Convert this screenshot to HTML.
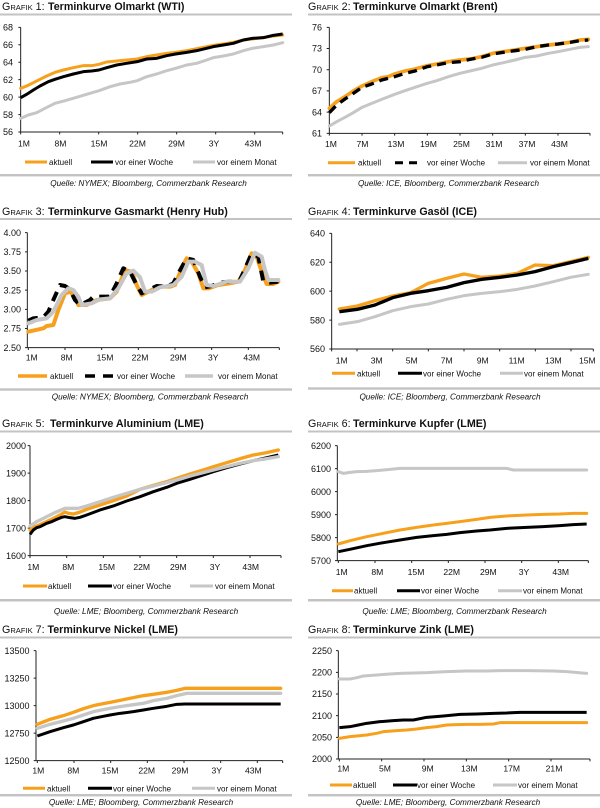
<!DOCTYPE html>
<html><head><meta charset="utf-8">
<style>
html,body{margin:0;padding:0;background:#fff;}
svg{display:block;font-family:"Liberation Sans",Arial,sans-serif;}
.yl{font-size:9px;text-anchor:end;fill:#111;}
.xl{font-size:8.6px;text-anchor:middle;fill:#111;}
.lg{font-size:8px;fill:#111;}
.src{font-size:8.2px;font-style:italic;text-anchor:middle;fill:#111;}
.t{font-size:10.7px;fill:#111;}
.sc{font-size:7.6px;}
.b{font-weight:bold;}
.rule{fill:#c3c3c3;}
.ax{stroke:#222;stroke-width:3;fill:none;}
.o{stroke:#f7a01c;fill:none;stroke-linejoin:round;stroke-linecap:round;}
.k{stroke:#000;fill:none;stroke-linejoin:round;}
.g{stroke:#c6c6c6;fill:none;stroke-linejoin:round;stroke-linecap:round;}
</style></head>
<body>
<svg width="600" height="808" viewBox="0 0 600 808" xmlns="http://www.w3.org/2000/svg">

<!-- ================= CHART 1 ================= -->
<text class="t" x="2" y="10">G<tspan class="sc">RAFIK</tspan> 1:<tspan class="b" x="48">Terminkurve Olmarkt (WTI)</tspan></text>
<rect class="rule" x="0" y="13.5" width="292" height="2"/>
<g transform="translate(0,0) scale(0.33333)">
<path class="ax" d="M62,82 V396 H848 M55,82 H62 M55,134.3 H62 M55,186.7 H62 M55,239 H62 M55,291.3 H62 M55,343.7 H62 M55,396 H62 M62,396 V403 M179,396 V403 M296,396 V403 M413,396 V403 M530,396 V403 M647,396 V403 M764,396 V403 M848,396 V403"/>
<polyline class="o" stroke-width="9" points="62,265 80,258 100,248 120,238 140,228 165,217 190,210 220,203 250,197 275,197 297,193 320,186 350,183 380,180 412,177 440,170 470,165 500,160 527,157 560,152 590,146 620,140 640,136 670,132 700,127 730,120 757,117 790,113 820,108 848,105"/>
<polyline class="k" stroke-width="9" points="62,293 80,283 100,270 120,258 145,245 165,238 190,230 220,222 250,215 275,213 297,210 320,203 350,195 380,190 412,185 440,177 470,175 500,167 527,162 560,157 590,152 620,145 640,140 670,135 700,130 730,120 757,115 790,113 820,106 848,102"/>
<polyline class="g" stroke-width="9" points="62,355 85,345 110,338 135,325 165,310 195,302 230,292 260,283 297,272 330,260 360,252 390,247 412,242 440,230 470,222 500,212 527,205 560,195 590,190 620,180 640,173 670,168 700,162 730,152 757,145 790,140 820,135 848,128"/>
</g>
<text class="yl" x="13" y="30.5">68</text><text class="yl" x="13" y="48">66</text><text class="yl" x="13" y="65.4">64</text><text class="yl" x="13" y="82.9">62</text><text class="yl" x="13" y="100.3">60</text><text class="yl" x="13" y="117.8">58</text><text class="yl" x="13" y="135.2">56</text>
<text class="xl" x="24" y="146.5">1M</text><text class="xl" x="60.5" y="146.5">8M</text><text class="xl" x="99" y="146.5">15M</text><text class="xl" x="137.5" y="146.5">22M</text><text class="xl" x="176.5" y="146.5">29M</text><text class="xl" x="214" y="146.5">3Y</text><text class="xl" x="253" y="146.5">43M</text>
<line x1="25" y1="162" x2="47" y2="162" stroke="#f7a01c" stroke-width="3"/><text class="lg" x="49" y="165">aktuell</text>
<line x1="91" y1="162" x2="113" y2="162" stroke="#000" stroke-width="3"/><text class="lg" x="115" y="165">vor einer Woche</text>
<line x1="193" y1="162" x2="215" y2="162" stroke="#c6c6c6" stroke-width="3"/><text class="lg" x="217" y="165">vor einem Monat</text>
<rect class="rule" x="0" y="174" width="292" height="2.4"/>
<text class="src" x="148.5" y="186">Quelle: NYMEX; Bloomberg, Commerzbank Research</text>

<!-- ================= CHART 2 ================= -->
<text class="t" x="308" y="10">G<tspan class="sc">RAFIK</tspan> 2:<tspan class="b" x="353">Terminkurve Olmarkt (Brent)</tspan></text>
<rect class="rule" x="308" y="13.5" width="292" height="2"/>
<g transform="translate(300,0) scale(0.33333)">
<path class="ax" d="M88,82 V400 H870 M80,82 H88 M80,145.6 H88 M80,209.2 H88 M80,272.8 H88 M80,336.4 H88 M80,400 H88 M88,400 V407 M186,400 V407 M284,400 V407 M382,400 V407 M480,400 V407 M578,400 V407 M676,400 V407 M774,400 V407 M870,400 V407"/>
<polyline class="o" stroke-width="11" points="88,325 110,305 135,290 160,273 186,258 215,245 245,233 265,230 284,222 315,213 345,207 382,197 410,192 445,185 480,180 510,177 545,170 578,160 610,155 645,150 676,145 710,140 745,135 774,132 810,127 840,120 865,118"/>
<polyline class="k" stroke-width="10" stroke-dasharray="27,18" points="88,338 110,315 135,297 160,280 186,262 215,252 245,240 265,235 284,230 315,220 345,213 382,200 410,195 445,188 480,185 510,178 545,172 578,162 610,157 645,152 676,148 710,140 745,135 774,132 810,127 840,122 865,120"/>
<polyline class="g" stroke-width="9" points="88,378 110,365 135,352 160,338 186,322 215,310 245,298 284,283 315,272 345,262 382,250 410,242 445,230 480,220 510,213 545,205 578,195 610,188 645,180 676,172 710,168 745,160 774,155 810,148 840,142 865,140"/>
</g>
<text class="yl" x="322" y="30.5">76</text><text class="yl" x="322" y="51.7">73</text><text class="yl" x="322" y="72.9">70</text><text class="yl" x="322" y="94.1">67</text><text class="yl" x="322" y="115.3">64</text><text class="yl" x="322" y="136.5">61</text>
<text class="xl" x="331" y="147">1M</text><text class="xl" x="362.5" y="147">7M</text><text class="xl" x="396" y="147">13M</text><text class="xl" x="428.5" y="147">19M</text><text class="xl" x="461.5" y="147">25M</text><text class="xl" x="494" y="147">31M</text><text class="xl" x="527" y="147">37M</text><text class="xl" x="559.5" y="147">43M</text>
<line x1="328" y1="162.7" x2="355" y2="162.7" stroke="#f7a01c" stroke-width="3"/><text class="lg" x="358" y="165.7">aktuell</text>
<line x1="395" y1="162.7" x2="422" y2="162.7" stroke="#000" stroke-width="3" stroke-dasharray="8,6"/><text class="lg" x="427" y="165.7">vor einer Woche</text>
<line x1="498" y1="162.7" x2="527" y2="162.7" stroke="#c6c6c6" stroke-width="3"/><text class="lg" x="530" y="165.7">vor einem Monat</text>
<rect class="rule" x="308" y="174" width="292" height="2.4"/>
<text class="src" x="448.5" y="186">Quelle: ICE, Bloomberg, Commerzbank Research</text>

<!-- ================= CHART 3 ================= -->
<text class="t" x="2" y="215">G<tspan class="sc">RAFIK</tspan> 3:<tspan class="b" x="48">Terminkurve Gasmarkt (Henry Hub)</tspan></text>
<rect class="rule" x="0" y="218" width="292" height="2"/>
<g transform="translate(0,200) scale(0.33333)">
<path class="ax" d="M82,98 V443 H838 M75,98 H82 M75,155.5 H82 M75,213 H82 M75,270.5 H82 M75,328 H82 M75,385.5 H82 M75,443 H82 M85,443 V450 M195,443 V450 M305,443 V450 M415,443 V450 M525,443 V450 M635,443 V450 M745,443 V450 M838,443 V450"/>
<polyline class="o" stroke-width="12" points="85,395 130,385 140,378 160,375 175,330 195,280 210,275 225,290 235,315 260,315 290,300 330,295 350,275 375,210 395,215 410,255 425,285 445,275 475,260 510,260 525,255 545,205 560,175 575,185 595,220 610,265 625,265 655,255 690,250 715,245 735,210 755,160 770,170 785,215 800,252 820,252 835,245"/>
<polyline class="k" stroke-width="12" stroke-dasharray="30,22" points="85,362 100,355 130,352 145,335 160,300 180,255 195,258 210,268 225,300 240,315 270,300 280,290 310,290 330,290 350,250 370,205 390,215 410,255 425,280 445,270 470,258 500,260 520,250 535,220 560,175 580,180 600,230 615,262 635,258 660,248 690,245 720,240 740,195 755,160 775,170 790,245 810,248 835,245"/>
<polyline class="g" stroke-width="12" points="85,370 110,360 140,355 160,335 185,285 205,265 220,270 235,290 245,315 275,310 300,298 330,295 355,265 380,220 400,212 420,232 435,275 455,275 480,262 520,255 545,230 565,185 585,185 605,195 620,255 640,258 680,245 720,245 745,205 765,158 785,170 795,210 805,240 835,240"/>
</g>
<text class="yl" x="21" y="235.9">4.00</text><text class="yl" x="21" y="255">3.75</text><text class="yl" x="21" y="274.2">3.50</text><text class="yl" x="21" y="293.4">3.25</text><text class="yl" x="21" y="312.5">3.00</text><text class="yl" x="21" y="331.7">2.75</text><text class="yl" x="21" y="350.9">2.50</text>
<text class="xl" x="31.7" y="360.7">1M</text><text class="xl" x="66.7" y="360.7">8M</text><text class="xl" x="105" y="360.7">15M</text><text class="xl" x="140" y="360.7">22M</text><text class="xl" x="178.3" y="360.7">29M</text><text class="xl" x="213.3" y="360.7">3Y</text><text class="xl" x="251.7" y="360.7">43M</text>
<line x1="18" y1="376" x2="47" y2="376" stroke="#f7a01c" stroke-width="3.5"/><text class="lg" x="50" y="379">aktuell</text>
<line x1="85" y1="376" x2="113" y2="376" stroke="#000" stroke-width="3.5" stroke-dasharray="10,8"/><text class="lg" x="117" y="379">vor einer Woche</text>
<line x1="185" y1="376" x2="213" y2="376" stroke="#c6c6c6" stroke-width="3.5"/><text class="lg" x="218" y="379">vor einem Monat</text>
<rect class="rule" x="0" y="388.3" width="292" height="2.4"/>
<text class="src" x="150" y="399.5">Quelle: NYMEX; Bloomberg, Commerzbank Research</text>

<!-- ================= CHART 4 ================= -->
<text class="t" x="308" y="215">G<tspan class="sc">RAFIK</tspan> 4:<tspan class="b" x="353">Terminkurve Gasöl (ICE)</tspan></text>
<rect class="rule" x="308" y="218" width="292" height="2"/>
<g transform="translate(300,200) scale(0.33333)">
<path class="ax" d="M95,100 V447 H880 M88,100 H95 M88,186.75 H95 M88,273.5 H95 M88,360.25 H95 M88,447 H95 M95,447 V454 M171,447 V454 M278,447 V454 M385,447 V454 M492,447 V454 M599,447 V454 M706,447 V454 M813,447 V454 M880,447 V454"/>
<polyline class="o" stroke-width="10" points="118,327 172,318 225,302 278,288 332,278 385,250 440,235 492,222 545,232 600,228 652,220 705,195 760,197 812,185 865,172"/>
<polyline class="k" stroke-width="10" points="118,335 172,328 225,315 278,293 332,280 385,272 440,262 492,248 545,238 600,232 652,225 705,215 760,200 812,188 865,175"/>
<polyline class="g" stroke-width="9" points="118,373 172,365 225,350 278,332 332,320 385,312 440,298 492,287 545,280 600,275 652,268 705,258 760,245 812,232 865,223"/>
</g>
<text class="yl" x="325" y="236.5">640</text><text class="yl" x="325" y="265.4">620</text><text class="yl" x="325" y="294.4">600</text><text class="yl" x="325" y="323.3">580</text><text class="yl" x="325" y="352.2">560</text>
<text class="xl" x="341.7" y="363.3">1M</text><text class="xl" x="376.7" y="363.3">3M</text><text class="xl" x="411.7" y="363.3">5M</text><text class="xl" x="446.7" y="363.3">7M</text><text class="xl" x="482.7" y="363.3">9M</text><text class="xl" x="516.7" y="363.3">11M</text><text class="xl" x="553.3" y="363.3">13M</text><text class="xl" x="587.3" y="363.3">15M</text>
<line x1="332" y1="373.3" x2="355" y2="373.3" stroke="#f7a01c" stroke-width="3"/><text class="lg" x="357" y="376.3">aktuell</text>
<line x1="398" y1="373.3" x2="422" y2="373.3" stroke="#000" stroke-width="3"/><text class="lg" x="423" y="376.3">vor einer Woche</text>
<line x1="500" y1="373.3" x2="523" y2="373.3" stroke="#c6c6c6" stroke-width="3"/><text class="lg" x="524" y="376.3">vor einem Monat</text>
<rect class="rule" x="308" y="387.3" width="292" height="2.4"/>
<text class="src" x="450" y="399.5">Quelle: ICE; Bloomberg, Commerzbank Research</text>

<!-- ================= CHART 5 ================= -->
<text class="t" x="2" y="427">G<tspan class="sc">RAFIK</tspan> 5:<tspan class="b" x="50">Terminkurve Aluminium (LME)</tspan></text>
<rect class="rule" x="0" y="430.5" width="292" height="2"/>
<g transform="translate(0,400) scale(0.33333)">
<path class="ax" d="M90,137 V467 H843 M83,137 H90 M83,219.5 H90 M83,302 H90 M83,384.5 H90 M83,467 H90 M90,467 V474 M200,467 V474 M310,467 V474 M420,467 V474 M530,467 V474 M640,467 V474 M750,467 V474 M843,467 V474"/>
<polyline class="o" stroke-width="10" points="90,390 105,380 120,374 140,365 160,355 180,345 195,336 205,340 220,342 235,338 260,328 300,315 340,302 380,288 420,268 460,256 500,245 530,235 570,222 610,210 640,200 680,188 720,176 760,165 800,158 835,150"/>
<polyline class="k" stroke-width="9" points="90,403 100,390 110,383 120,380 130,375 140,370 155,365 170,358 185,352 195,350 210,353 225,355 240,352 260,345 300,330 340,318 380,303 420,290 460,275 500,262 530,250 570,238 610,225 640,215 680,203 720,192 760,182 800,173 835,165"/>
<polyline class="g" stroke-width="10" points="90,378 110,365 130,355 160,340 195,325 215,325 235,325 260,318 300,305 340,292 380,280 420,268 460,258 500,248 530,240 570,228 610,218 640,210 680,200 720,190 760,182 800,176 835,170"/>
</g>
<text class="yl" x="26" y="448.9">2000</text><text class="yl" x="26" y="476.4">1900</text><text class="yl" x="26" y="503.9">1800</text><text class="yl" x="26" y="531.4">1700</text><text class="yl" x="26" y="558.9">1600</text>
<text class="xl" x="33.3" y="570">1M</text><text class="xl" x="68.3" y="570">8M</text><text class="xl" x="106.7" y="570">15M</text><text class="xl" x="141.7" y="570">22M</text><text class="xl" x="178.3" y="570">29M</text><text class="xl" x="215" y="570">3Y</text><text class="xl" x="250.7" y="570">43M</text>
<line x1="23" y1="586" x2="47" y2="586" stroke="#f7a01c" stroke-width="3"/><text class="lg" x="48" y="589">aktuell</text>
<line x1="88" y1="586" x2="112" y2="586" stroke="#000" stroke-width="3"/><text class="lg" x="113" y="589">vor einer Woche</text>
<line x1="190" y1="586" x2="213" y2="586" stroke="#c6c6c6" stroke-width="3"/><text class="lg" x="215" y="589">vor einem Monat</text>
<rect class="rule" x="0" y="599" width="292" height="2.5"/>
<text class="src" x="146" y="614">Quelle: LME; Bloomberg, Commerzbank Research</text>

<!-- ================= CHART 6 ================= -->
<text class="t" x="308" y="427">G<tspan class="sc">RAFIK</tspan> 6:<tspan class="b" x="353">Terminkurve Kupfer (LME)</tspan></text>
<rect class="rule" x="308" y="430.5" width="292" height="2"/>
<g transform="translate(300,400) scale(0.33333)">
<path class="ax" d="M112,137 V482 H865 M105,137 H112 M105,206 H112 M105,275 H112 M105,344 H112 M105,413 H112 M105,482 H112 M115,482 V489 M225,482 V489 M335,482 V489 M445,482 V489 M555,482 V489 M665,482 V489 M775,482 V489 M865,482 V489"/>
<polyline class="o" stroke-width="9" points="115,432 150,422 200,410 250,400 300,390 350,382 400,375 440,370 480,365 530,358 570,352 620,348 680,345 730,343 780,342 820,340 860,340"/>
<polyline class="k" stroke-width="9" points="115,455 150,448 200,437 250,428 300,420 350,412 400,407 440,403 480,398 530,393 570,390 620,385 680,382 730,380 780,377 820,374 860,372"/>
<polyline class="g" stroke-width="9" points="115,215 130,220 145,218 170,215 200,214 230,212 270,208 300,205 350,205 440,205 540,205 620,205 640,210 700,210 860,210"/>
</g>
<text class="yl" x="331" y="448.9">6200</text><text class="yl" x="331" y="471.9">6100</text><text class="yl" x="331" y="494.9">6000</text><text class="yl" x="331" y="517.9">5900</text><text class="yl" x="331" y="540.9">5800</text><text class="yl" x="331" y="563.9">5700</text>
<text class="xl" x="341.7" y="575">1M</text><text class="xl" x="377.3" y="575">8M</text><text class="xl" x="416" y="575">15M</text><text class="xl" x="451.7" y="575">22M</text><text class="xl" x="488.3" y="575">29M</text><text class="xl" x="524" y="575">3Y</text><text class="xl" x="560.7" y="575">43M</text>
<line x1="332" y1="590.7" x2="353" y2="590.7" stroke="#f7a01c" stroke-width="3"/><text class="lg" x="354" y="593.7">aktuell</text>
<line x1="397" y1="590.7" x2="420" y2="590.7" stroke="#000" stroke-width="3"/><text class="lg" x="421" y="593.7">vor einer Woche</text>
<line x1="498" y1="590.7" x2="522" y2="590.7" stroke="#c6c6c6" stroke-width="3"/><text class="lg" x="523" y="593.7">vor einem Monat</text>
<rect class="rule" x="308" y="599" width="292" height="2.5"/>
<text class="src" x="454.5" y="614">Quelle: LME; Bloomberg, Commerzbank Research</text>

<!-- ================= CHART 7 ================= -->
<text class="t" x="2" y="633">G<tspan class="sc">RAFIK</tspan> 7:<tspan class="b" x="47.5">Terminkurve Nickel (LME)</tspan></text>
<rect class="rule" x="0" y="636.5" width="292" height="2"/>
<g transform="translate(0,605) scale(0.33333)">
<path class="ax" d="M108,137 V467 H848 M101,137 H108 M101,219.5 H108 M101,302 H108 M101,384.5 H108 M101,467 H108 M112,467 V474 M222,467 V474 M332,467 V474 M442,467 V474 M552,467 V474 M662,467 V474 M772,467 V474 M848,467 V474"/>
<polyline class="o" stroke-width="10" points="112,358 150,343 190,332 220,322 250,311 280,302 310,296 330,292 360,286 400,278 430,272 460,268 500,262 530,256 555,250 842,250"/>
<polyline class="k" stroke-width="9" points="112,393 150,380 190,368 220,360 250,350 280,340 310,334 330,330 360,325 400,320 430,315 460,310 500,304 530,298 555,297 842,297"/>
<polyline class="g" stroke-width="10" points="112,370 150,358 190,348 220,340 250,330 280,320 310,314 330,310 360,305 400,299 430,295 460,287 500,280 530,272 560,265 842,265"/>
</g>
<text class="yl" x="29.5" y="653.9">13500</text><text class="yl" x="29.5" y="681.4">13250</text><text class="yl" x="29.5" y="708.9">13000</text><text class="yl" x="29.5" y="736.4">12750</text><text class="yl" x="29.5" y="763.9">12500</text>
<text class="xl" x="38.3" y="773.3">1M</text><text class="xl" x="73.3" y="773.3">8M</text><text class="xl" x="110" y="773.3">15M</text><text class="xl" x="146.7" y="773.3">22M</text><text class="xl" x="180" y="773.3">29M</text><text class="xl" x="216.7" y="773.3">3Y</text><text class="xl" x="253.3" y="773.3">43M</text>
<line x1="23" y1="788.3" x2="45" y2="788.3" stroke="#f7a01c" stroke-width="3"/><text class="lg" x="47" y="791.3">aktuell</text>
<line x1="88" y1="788.3" x2="112" y2="788.3" stroke="#000" stroke-width="3"/><text class="lg" x="113" y="791.3">vor einer Woche</text>
<line x1="192" y1="788.3" x2="215" y2="788.3" stroke="#c6c6c6" stroke-width="3"/><text class="lg" x="217" y="791.3">vor einem Monat</text>
<rect class="rule" x="0" y="794" width="292" height="2.4"/>
<text class="src" x="141" y="805">Quelle: LME; Bloomberg, Commerzbank Research</text>

<!-- ================= CHART 8 ================= -->
<text class="t" x="308" y="633">G<tspan class="sc">RAFIK</tspan> 8:<tspan class="b" x="353">Terminkurve Zink (LME)</tspan></text>
<rect class="rule" x="308" y="636.5" width="292" height="2"/>
<g transform="translate(300,605) scale(0.33333)">
<path class="ax" d="M115,137 V462 H870 M108,137 H115 M108,202 H115 M108,267 H115 M108,332 H115 M108,397 H115 M108,462 H115 M118,462 V469 M245,462 V469 M372,462 V469 M499,462 V469 M626,462 V469 M753,462 V469 M870,462 V469"/>
<polyline class="o" stroke-width="9" points="118,400 150,395 200,390 230,385 250,380 290,377 320,375 350,372 380,368 410,365 440,360 470,359 500,358 540,358 580,357 600,353 860,353"/>
<polyline class="k" stroke-width="9" points="118,368 150,365 175,360 200,355 240,350 280,347 310,345 340,345 380,337 430,333 480,328 530,327 580,325 620,324 660,322 860,322"/>
<polyline class="g" stroke-width="9" points="118,222 150,222 170,218 190,213 230,210 270,207 300,205 340,204 380,203 440,200 500,198 560,198 600,197 680,197 760,198 800,200 860,205"/>
</g>
<text class="yl" x="332" y="653.9">2250</text><text class="yl" x="332" y="675.5">2200</text><text class="yl" x="332" y="697.2">2150</text><text class="yl" x="332" y="718.9">2100</text><text class="yl" x="332" y="740.5">2050</text><text class="yl" x="332" y="762.2">2000</text>
<text class="xl" x="343.3" y="771.7">1M</text><text class="xl" x="385" y="771.7">5M</text><text class="xl" x="427.7" y="771.7">9M</text><text class="xl" x="469.3" y="771.7">13M</text><text class="xl" x="511.7" y="771.7">17M</text><text class="xl" x="554" y="771.7">21M</text>
<line x1="330" y1="785" x2="352" y2="785" stroke="#f7a01c" stroke-width="3"/><text class="lg" x="353" y="788">aktuell</text>
<line x1="393" y1="785" x2="417" y2="785" stroke="#000" stroke-width="3"/><text class="lg" x="417" y="788">vor einer Woche</text>
<line x1="493" y1="785" x2="517" y2="785" stroke="#c6c6c6" stroke-width="3"/><text class="lg" x="518" y="788">vor einem Monat</text>
<rect class="rule" x="308" y="794" width="292" height="2.4"/>
<text class="src" x="448" y="805">Quelle: LME; Bloomberg, Commerzbank Research</text>

</svg>
</body></html>
